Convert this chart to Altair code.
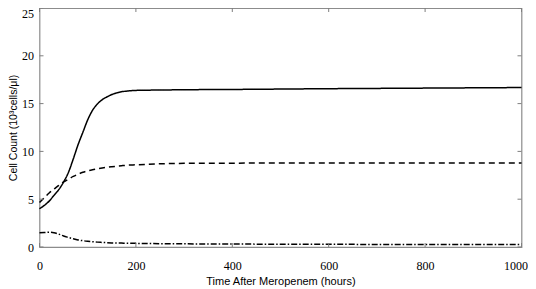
import altair as alt
import pandas as pd

times = [0, 10, 20, 30, 40, 50, 60, 70, 80, 90, 100, 110, 120, 130, 140, 150,
         160, 170, 180, 200, 250, 300, 400, 500, 600, 700, 800, 900, 1000]
solid = [4.0, 4.35, 4.8, 5.4, 6.0, 6.8, 7.8, 9.2, 10.7, 12.0, 13.3, 14.3, 14.95,
         15.4, 15.7, 15.95, 16.12, 16.24, 16.3, 16.38, 16.42, 16.45, 16.48, 16.52,
         16.56, 16.59, 16.62, 16.65, 16.68]
dashed = [4.65, 5.15, 5.65, 6.05, 6.45, 6.8, 7.1, 7.38, 7.62, 7.82, 7.97, 8.08, 8.17,
          8.26, 8.34, 8.4, 8.45, 8.5, 8.55, 8.6, 8.7, 8.75, 8.77, 8.78, 8.78,
          8.78, 8.78, 8.78, 8.78]
dashdot = [1.5, 1.52, 1.55, 1.5, 1.35, 1.15, 1.0, 0.86, 0.74, 0.66, 0.6, 0.55,
           0.51, 0.48, 0.45, 0.43, 0.42, 0.41, 0.4, 0.38, 0.35, 0.33, 0.31, 0.29,
           0.28, 0.27, 0.26, 0.25, 0.25]
series_names = ["A", "B", "C"]
x_ticks = [0, 200, 400, 600, 800, 1000]
y_ticks = [0, 5, 10, 15, 20, 25]

rows = []
for name, vals in zip(series_names, [solid, dashed, dashdot]):
    for t, v in zip(times, vals):
        rows.append({"t": t, "v": v, "s": name})
df = pd.DataFrame(rows)

W, H = 482, 239
xs = alt.Scale(domain=[0, 1000], nice=False)
ys = alt.Scale(domain=[0, 25], nice=False)
tick_col = "#7f7f7f"

lines = alt.Chart(df).mark_line(color="black", strokeWidth=1.5, interpolate="monotone").encode(
    x=alt.X("t:Q", scale=xs,
            axis=alt.Axis(values=x_ticks, title="Time After Meropenem (hours)",
                          format="d", labelFlush=False,
                          labelOffset={"condition": {"test": "datum.value == 1000", "value": -6},
                                       "value": 0},
                          grid=False, ticks=False, domain=False, tickSize=0,
                          labelPadding=13, titlePadding=4,
                          labelFont="Liberation Serif", labelFontSize=12,
                          titleFont="Liberation Sans", titleFontSize=11,
                          titleFontWeight="normal", labelColor="black", titleColor="black")),
    y=alt.Y("v:Q", scale=ys,
            axis=alt.Axis(values=y_ticks, title="Cell Count (10³cells/μl)",
                          format="d", labelFlush=False,
                          labelBaseline={"condition": {"test": "datum.value == 25", "value": "top"},
                                         "value": "middle"},
                          grid=False, ticks=False, domain=False, tickSize=0,
                          labelPadding=6,
                          titleX=-26, titleY=H / 2, titleAngle=-90,
                          titleAlign="center", titleBaseline="middle",
                          labelFont="Liberation Serif", labelFontSize=12,
                          titleFont="Liberation Sans", titleFontSize=10.5,
                          titleFontWeight="normal", labelColor="black", titleColor="black")),
    strokeDash=alt.StrokeDash("s:N", legend=None,
                              scale=alt.Scale(domain=series_names,
                                              range=[[1, 0], [6, 4], [6, 2, 1.5, 2]])),
    detail="s:N",
)

xt = pd.DataFrame({"x": x_ticks})
yt = pd.DataFrame({"y": y_ticks})
xb = alt.Chart(xt).mark_rule(color=tick_col).encode(
    x=alt.X("x:Q", scale=xs), y=alt.value(H), y2=alt.value(H - 4))
xtop = alt.Chart(xt).mark_rule(color=tick_col).encode(
    x=alt.X("x:Q", scale=xs), y=alt.value(0), y2=alt.value(4))
yl = alt.Chart(yt).mark_rule(color=tick_col).encode(
    y=alt.Y("y:Q", scale=ys), x=alt.value(0), x2=alt.value(4))
yr = alt.Chart(yt).mark_rule(color=tick_col).encode(
    y=alt.Y("y:Q", scale=ys), x=alt.value(W), x2=alt.value(W - 4))

chart = alt.layer(lines, xb, xtop, yl, yr).properties(
    width=W, height=H,
    background="white",
    autosize=alt.AutoSizeParams(type="none"),
    padding={"left": 31.5, "top": 0, "right": 6, "bottom": 40},
).configure_view(stroke="#8c8c8c", strokeWidth=1.2)

chart.save("out.html", embed_options={"renderer": "svg", "actions": False})
